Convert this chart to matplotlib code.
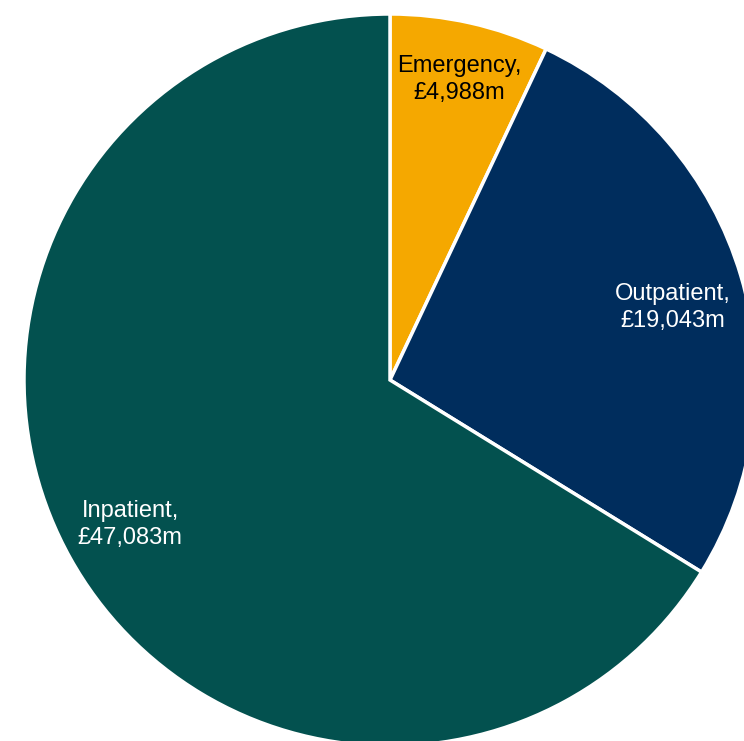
import matplotlib.pyplot as plt

# Spend by setting, £m
settings = ['Emergency', 'Outpatient', 'Inpatient']
spend = [4988, 19043, 47083]
colours = ['#F5A800', '#002D5D', '#03514F']
label_colours = ['black', 'white', 'white']
# label centres, in units of the pie radius
label_pos = [(0.189, 0.822), (0.773, 0.199), (-0.710, -0.396)]

plt.rcParams['font.family'] = ['Liberation Sans', 'DejaVu Sans']

fig = plt.figure(figsize=(7.44, 7.41), dpi=100)
ax = fig.add_axes([0, 0, 1, 1])

labels = ['{},\n£{:,}m'.format(s, v) for s, v in zip(settings, spend)]
wedges, texts = ax.pie(spend, labels=labels, colors=colours,
                       startangle=90, counterclock=False,
                       wedgeprops=dict(edgecolor='white', linewidth=2.5),
                       textprops=dict(fontsize=17))
for t, c, pos in zip(texts, label_colours, label_pos):
    t.set_color(c)
    t.set_position(pos)
    t.set_ha('center')
    t.set_va('center')
    t.set_linespacing(1.3)

# pie is a little bigger than the canvas, so it gets clipped right and bottom
r = 366.0
ax.set_xlim(-390 / r, (744 - 390) / r)
ax.set_ylim(-(741 - 380) / r, 380 / r)
ax.set_aspect('equal')
ax.axis('off')

fig.savefig('out.png', dpi=100)
